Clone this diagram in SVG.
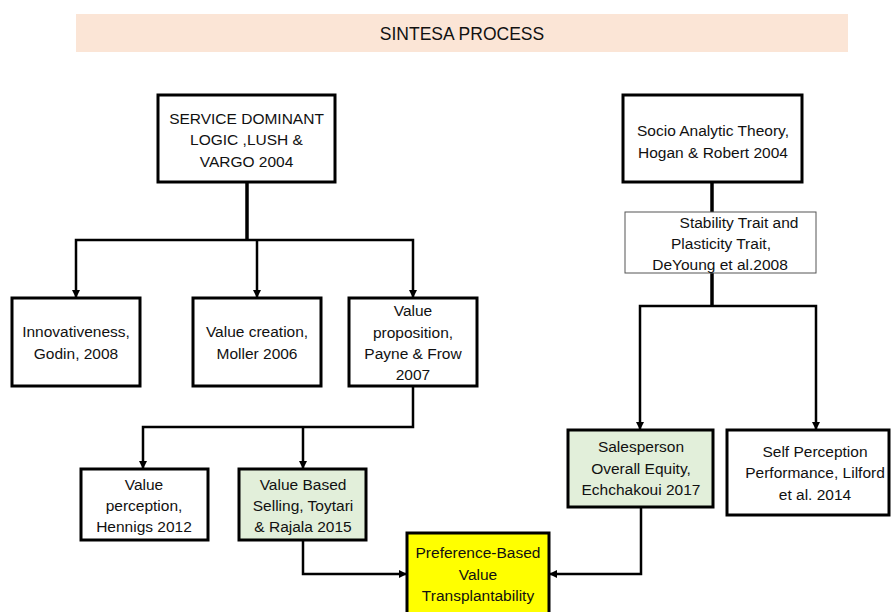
<svg xmlns="http://www.w3.org/2000/svg" width="892" height="612" viewBox="0 0 892 612">
<style>
text{font-family:"Liberation Sans",Arial,sans-serif;font-size:15.5px;fill:#111;text-anchor:middle}
.title{font-size:17.5px}
.box{fill:#fff;stroke:#000;stroke-width:3}
.green{fill:#e2efda}
.yellow{fill:#ffff00}
.thin{fill:#fff;stroke:#555;stroke-width:1}
.conn path{fill:none;stroke:#000;stroke-width:2.5}
.conn path.trunk{stroke-width:3.5}
</style>
<defs>
<marker id="arr" viewBox="0 0 8 8" refX="8" refY="4" markerWidth="8" markerHeight="8" markerUnits="userSpaceOnUse" orient="auto">
<path d="M0,0 L8,4 L0,8 z" fill="#000"/>
</marker>
</defs>
<rect width="892" height="612" fill="#fff"/>
<g id="title">
<rect x="76" y="14" width="772" height="38" fill="#fbe5d6"/>
<text class="title" x="462" y="40">SINTESA PROCESS</text>
</g>
<g class="conn" id="connectors">
<path class="trunk" d="M247,182 V240"/>
<path d="M247,240 H76 V298" marker-end="url(#arr)"/>
<path d="M257,240 V298" marker-end="url(#arr)"/>
<path d="M247,240 H413 V298" marker-end="url(#arr)"/>
<path d="M413,386 V427 H143 V469" marker-end="url(#arr)"/>
<path d="M303,427 V469" marker-end="url(#arr)"/>
<path d="M303,540 V574 H407" marker-end="url(#arr)"/>
<path class="trunk" d="M712,182 V212"/>
<path class="trunk" d="M712,273 V306"/>
<path d="M712,306 H640 V430" marker-end="url(#arr)"/>
<path d="M712,306 H816 V430" marker-end="url(#arr)"/>
<path d="M641,507 V574 H549" marker-end="url(#arr)"/>
</g>
<g id="sdl">
<rect class="box" x="158" y="95" width="177" height="87"/>
<text x="246.5" y="123.5">SERVICE DOMINANT</text>
<text x="246.5" y="145">LOGIC ,LUSH &amp;</text>
<text x="246.5" y="166.5">VARGO 2004</text>
</g>
<g id="socio">
<rect class="box" x="623" y="95" width="179" height="87"/>
<text x="713" y="136">Socio Analytic Theory,</text>
<text x="713" y="157.5">Hogan &amp; Robert 2004</text>
</g>
<g id="stability">
<rect class="thin" x="625" y="212" width="191" height="61"/>
<text x="739" y="227.5">Stability Trait and</text>
<text x="721" y="249">Plasticity Trait,</text>
<text x="720" y="270">DeYoung et al.2008</text>
</g>
<g id="innov">
<rect class="box" x="12" y="298" width="128" height="88"/>
<text x="76" y="337">Innovativeness,</text>
<text x="76" y="358.5">Godin, 2008</text>
</g>
<g id="creation">
<rect class="box" x="193" y="298" width="128" height="88"/>
<text x="257" y="337">Value creation,</text>
<text x="257" y="358.5">Moller 2006</text>
</g>
<g id="proposition">
<rect class="box" x="349" y="298" width="128" height="88"/>
<text x="413" y="316">Value</text>
<text x="413" y="337.5">proposition,</text>
<text x="413" y="359">Payne &amp; Frow</text>
<text x="413" y="380">2007</text>
</g>
<g id="perception">
<rect class="box" x="81" y="469" width="127" height="71"/>
<text x="144" y="489.5">Value</text>
<text x="144" y="511">perception,</text>
<text x="144" y="532">Hennigs 2012</text>
</g>
<g id="vbs">
<rect class="box green" x="239" y="469" width="127" height="71"/>
<text x="303" y="489.5">Value Based</text>
<text x="303" y="511">Selling, Toytari</text>
<text x="303" y="532">&amp; Rajala 2015</text>
</g>
<g id="salesperson">
<rect class="box green" x="568" y="430" width="145" height="77"/>
<text x="641" y="452">Salesperson</text>
<text x="641" y="473.5">Overall Equity,</text>
<text x="641" y="495">Echchakoui 2017</text>
</g>
<g id="selfperception">
<rect class="box" x="727" y="430" width="162" height="85"/>
<text x="815" y="456.5">Self Perception</text>
<text x="815" y="478">Performance, Lilford</text>
<text x="815" y="499.5">et al. 2014</text>
</g>
<g id="pbvt">
<rect class="box yellow" x="407" y="533" width="142" height="90"/>
<text x="478" y="558">Preference-Based</text>
<text x="478" y="579.5">Value</text>
<text x="478" y="601">Transplantability</text>
</g>
</svg>
